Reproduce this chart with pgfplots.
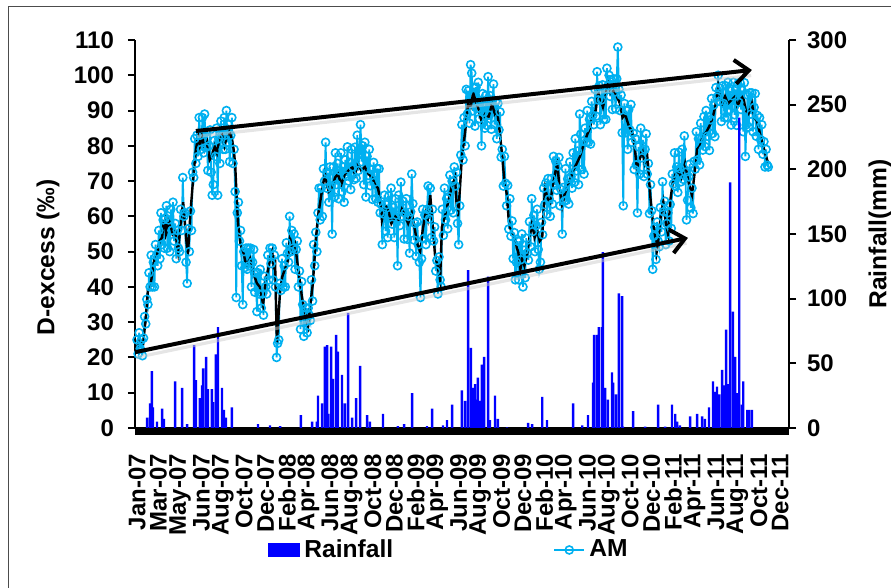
\documentclass[border=0pt]{standalone}
\usepackage{fontspec}
\setmainfont{Liberation Sans}
\usepackage{pgfplots}
\pgfplotsset{compat=1.18}
\usetikzlibrary{arrows.meta}
\definecolor{amcyan}{RGB}{0,176,240}
\definecolor{rainblue}{RGB}{0,0,255}
\begin{document}
\begin{tikzpicture}[x=0.5pt,y=0.5pt]
\path[use as bounding box] (0,0) rectangle (891,588);
\draw[gray!60!black, line width=0.5pt] (8,0) -- (8,581) -- (891,581);
\begin{axis}[
  at={(67.5pt,80pt)}, anchor=south west,
  width=327pt, height=194pt, scale only axis,
  xmin=-5.5, xmax=1794, ymin=0, ymax=110,
  axis y line*=left, axis x line*=bottom,
  axis line style={line width=1pt},
  ytick={0,10,...,110},
  xtick={0,59,...,1770},
  xticklabels={Jan-07,Mar-07,May-07,Jun-07,Aug-07,Oct-07,Dec-07,Feb-08,Apr-08,Jun-08,Aug-08,Oct-08,Dec-08,Feb-09,Apr-09,Jun-09,Aug-09,Oct-09,Dec-09,Feb-10,Apr-10,Jun-10,Aug-10,Oct-10,Dec-10,Feb-11,Apr-11,Jun-11,Aug-11,Oct-11,Dec-11},
  tick align=outside, major tick length=3.5pt,
  major tick style={line width=1pt, black},
  x tick style={draw=none},
  /pgf/number format/assume math mode=true,
  tick label style={font=\fontsize{12}{13}\selectfont\bfseries},
  xticklabel style={rotate=90, anchor=east, xshift=-6pt},
  yticklabel style={xshift=-3.5pt},
  ylabel={D-excess (‰)},
  ylabel style={font=\fontsize{12.3}{14}\selectfont\bfseries, at={(axis description cs:-0.133,0.44)}, anchor=center},
  clip=false,
]
\addplot[amcyan, line width=0.9pt, mark=o, mark size=2pt, mark options={fill=white, line width=0.8pt, solid}] table {
0 25
3 21
6 27
9 22.5
12 25
15 20.5
18 25.5
21 31.6
24 29.5
27 36.5
30 35
33 44
36 40
39 49
42 40
45 47
48 40
51 52
54 49
57 46
60 56
63 48
66 61
69 52
72 59
75 51
78 59.5
81 63
84 51
87 59
90 50
93 62
96 56
99 64
102 53
105 58
108 48
111 56
114 51
117 50
120 62
123 56
126 71
129 60
132 61
135 47
138 41
141 56.5
144 50
147 61.5
150 56
153 72.5
156 71
159 82
162 75
165 83
168 77
171 88
174 83
177 79
180 88
183 78
186 89
189 79.5
192 84
195 73
198 80
201 84.5
204 72.5
207 66
210 69
213 81.5
216 77
219 85
222 66
225 82
228 75
231 87
234 83
237 79
240 88
243 79
246 90
249 81
252 86
255 75.5
258 83
261 88
264 75
267 79
270 67
273 37
276 61
279 64
282 53
285 56
288 46
291 35
294 50
297 45.5
300 51
303 45
306 51
309 46
312 51
315 40
318 47
321 50.6
324 38.5
327 44
330 33
333 44
336 38
339 45
342 34
345 38
348 32
351 43
354 40
357 38
360 49
363 42
366 51
369 46.6
372 51
375 42
378 49
381 40
384 20
387 24
390 25
393 41
396 39
399 48
402 40
405 46
408 40
411 52.5
414 49.5
417 47
420 60
423 50
426 56
429 51
432 55
435 45
438 50.6
441 53
444 40
447 44.5
450 28
453 41.5
456 35
459 26
462 30
465 34
468 27
471 34
474 32
477 30.5
480 42
483 36
486 52
489 46
492 55.5
495 50
498 61
501 68
504 59
507 68
510 60
513 73.5
516 70
519 81
522 68
525 72.4
528 64
531 74
534 68.6
537 55
540 74
543 65.5
546 78
549 69
552 75
555 65
558 73
561 78
564 67
567 74
570 64
573 76
576 71.4
579 79.7
582 70
585 75.3
588 67.6
591 79
594 74
597 70.4
600 79.6
603 70.8
606 83
609 73
612 77.8
615 86
618 75.5
621 80
624 69
627 81
630 65.5
633 77
636 71.6
639 79
642 68.7
645 73.2
648 64.8
651 75.3
654 69.7
657 65
660 73.6
663 64
666 73.5
669 61
672 63.4
675 52
678 60.7
681 66
684 55.8
687 63.3
690 54
693 65.8
696 60.5
699 68
702 57.8
705 62.5
708 54
711 65
714 60.4
717 46
720 66
723 57.4
726 69.7
729 60
732 64.3
735 53.6
738 61
741 65
744 53.5
747 60
750 49.6
753 61.3
756 72
759 63.6
762 53.3
765 58
768 48.7
771 58.4
774 52
777 47
780 37
783 48
786 62
789 53.7
792 60.4
795 52
798 62
801 68.6
804 59.3
807 68
810 54
813 62
816 53
819 57
822 44.5
825 47.5
828 38
831 48.5
834 42
837 40
840 62
843 54.6
846 68
849 59
852 65
855 56.5
858 65.6
861 71.7
864 61.8
867 70
870 61
873 74
876 68.6
879 72.5
882 58
885 52
888 63
891 77.4
894 86
897 76
900 88
903 80
906 96
909 89
912 95.6
915 86.4
918 103
921 100.6
924 89.9
927 96.5
930 85.6
933 96.6
936 90.6
939 98
942 87.7
945 92.4
948 80
951 94.8
954 89.5
957 85
960 94.3
963 85.8
966 99.6
969 88.7
972 94.2
975 84.7
978 93
981 97.5
984 86
987 92.6
990 82
993 92
996 84.5
999 89.6
1002 76.8
1005 79
1008 68.6
1011 77
1014 69.4
1017 63
1020 68.8
1023 56.4
1026 65
1029 54.4
1032 58.7
1035 48
1038 55.4
1041 42
1044 47
1047 53
1050 42
1053 53
1056 47.7
1059 55
1062 40
1065 50.4
1068 42.6
1071 53.8
1074 49.6
1077 47.6
1080 58.5
1083 51.4
1086 65
1089 55.7
1092 60.3
1095 50
1098 57.4
1101 62
1104 50.6
1107 45
1110 47
1113 58.3
1116 54.8
1119 68
1122 63.3
1125 69.4
1128 60.6
1131 70.7
1134 64.9
1137 60
1140 70.7
1143 63.5
1146 77
1149 68.9
1152 75.7
1155 67.4
1158 74.3
1161 76.7
1164 63
1167 67.6
1170 55
1173 68.2
1176 64.3
1179 73.5
1182 64.6
1185 70.6
1188 63.5
1191 75.4
1194 71.2
1197 68
1200 78
1203 69.6
1206 82
1209 72.9
1212 78.5
1215 69
1218 89
1221 83.3
1224 73.3
1227 81.3
1230 72
1233 85
1236 81
1239 90
1242 81
1245 87.5
1248 80.5
1251 92.6
1254 88.6
1257 86
1260 96
1263 88.4
1266 101
1269 93
1272 97
1275 86
1278 93
1281 97.3
1284 87.5
1287 96
1290 87.5
1293 102
1296 97
1299 100
1302 94
1305 98.7
1308 90.3
1311 99
1314 95.2
1317 90.5
1320 99
1323 108
1326 96
1329 90
1332 94.4
1335 83.7
1338 63
1341 92
1344 83.7
1347 90
1350 79
1353 90.3
1356 84.5
1359 91.7
1362 81
1365 83.6
1368 73.3
1371 82
1374 74.6
1377 61
1380 79.7
1383 72
1386 85
1389 76.6
1392 81.7
1395 71.3
1398 79
1401 83.4
1404 72
1407 75
1410 60.8
1413 69
1416 61.6
1419 45
1422 54.4
1425 56.9
1428 47.8
1431 58.4
1434 53
1437 51.4
1440 62.5
1443 55.6
1446 69.8
1449 61.3
1452 64.3
1455 52
1458 58
1461 61
1464 53
1467 63.4
1470 56.6
1473 72
1476 69.2
1479 78
1482 68.5
1485 74
1488 66.8
1491 78.2
1494 73.5
1497 69.8
1500 79
1503 70.5
1506 82.8
1509 72.5
1512 59
1515 64.6
1518 71.2
1521 74.8
1524 62.4
1527 68
1530 60.8
1533 75.6
1536 73.4
1539 84
1542 76
1545 82
1548 74.6
1551 86.4
1554 82.1
1557 78.8
1560 88.3
1563 79.8
1566 90
1569 82.7
1572 88.2
1575 78.7
1578 87.4
1581 93.4
1584 83.5
1587 91.6
1590 82.6
1593 96.5
1596 93.8
1599 100
1602 92.6
1605 96.3
1608 86.9
1611 97
1614 92
1617 88
1620 97
1623 88
1626 98
1629 90.3
1632 95.6
1635 85.9
1638 94.2
1641 98
1644 88.8
1647 96
1650 85.8
1653 97.5
1656 92.3
1659 98
1662 90.3
1665 95.7
1668 84
1671 97.9
1674 77
1677 86
1680 94.4
1683 85.3
1686 95
1689 89
1692 95
1695 84
1698 90.9
1701 94.8
1704 82.7
1707 88.6
1710 79
1713 88
1716 81.7
1719 86
1722 77.6
1725 81.2
1728 74
1731 79
1734 74.5
1737 74
};
\addplot[black, line width=1.2pt] coordinates {
(0,23)(8,25)(17,24)(24,31)(30,39)(36,40)(41,43)(48,48)(55,49)(62,53)(69,54)(73,58)(77,59)(80,55)(83,56)(87,59)(91,58)(98,55)(105,56)(109,53)(113,50)(120,58)(127,64)(134,55)(140,49)(147,61)(154,70)(161,78)(168,83)(173,80)(179,83)(186,79)(193,81)(200,76)(206,77)(213,80)(220,78)(227,82)(234,83)(241,80)(248,83)(254,84)(261,82)(266,79)(270,75)(274,66)(278,58)(285,52)(292,50)(301,46)(311,48)(320,44)(330,41)(338,40)(347,35)(354,42)(361,45)(366,48)(372,50)(376,46)(380,47)(385,24)(390,33)(394,39)(400,43)(407,45)(414,47)(421,54)(428,50)(435,52)(445,44)(454,37)(462,33)(471,29)(478,36)(484,41)(491,52)(498,60)(507,66)(517,72)(527,67)(537,68)(545,71)(553,72)(562,69)(572,72)(582,73)(592,74)(600,72)(608,75)(617,73)(627,74)(637,72)(647,71)(655,69)(663,68)(669,65)(674,59)(683,63)(691,62)(700,58)(710,60)(720,59)(729,62)(738,60)(746,58)(756,61)(765,56)(772,52)(779,50)(786,56)(794,61)(800,59)(807,66)(813,58)(820,49)(827,46)(834,42)(839,57)(847,60)(856,64)(865,68)(875,71)(879,64)(883,60)(888,67)(894,77)(903,84)(911,92)(918,91)(925,95)(931,93)(938,91)(948,87)(958,89)(967,88)(977,92)(984,89)(991,90)(998,84)(1004,78)(1011,70)(1018,66)(1022,60)(1026,57)(1033,55)(1040,54)(1045,51)(1049,50)(1055,45)(1060,48)(1066,46)(1073,49)(1080,54)(1087,58)(1094,54)(1101,56)(1108,53)(1115,54)(1119,62)(1123,68)(1130,65)(1137,64)(1146,70)(1156,75)(1163,68)(1170,63)(1176,66)(1183,68)(1191,70)(1200,73)(1210,75)(1219,77)(1228,80)(1238,83)(1246,85)(1255,89)(1262,90)(1269,95)(1276,93)(1282,91)(1289,94)(1296,98)(1303,95)(1310,96)(1320,94)(1329,92)(1336,88)(1343,89)(1352,86)(1362,84)(1369,80)(1376,73)(1383,76)(1390,79)(1397,75)(1404,77)(1408,72)(1412,66)(1419,59)(1426,54)(1430,50)(1434,53)(1441,60)(1448,64)(1455,58)(1461,55)(1468,65)(1475,70)(1482,72)(1489,73)(1498,71)(1508,75)(1517,70)(1527,66)(1534,72)(1541,79)(1549,80)(1558,83)(1567,84)(1577,86)(1584,88)(1591,91)(1599,97)(1604,94)(1610,92)(1618,94)(1626,92)(1636,93)(1646,94)(1652,91)(1659,93)(1668,94)(1675,90)(1682,89)(1692,92)(1699,88)(1706,87)(1713,84)(1720,81)(1728,78)(1737,75)
};
\end{axis}
\begin{axis}[
  at={(67.5pt,80pt)}, anchor=south west,
  width=327pt, height=194pt, scale only axis,
  xmin=-5.5, xmax=1794, ymin=0, ymax=300,
  axis y line*=right, axis x line=none,
  axis line style={line width=1pt},
  ytick={0,50,...,300},
  tick align=outside, major tick length=3.5pt,
  major tick style={line width=1pt, black},
  /pgf/number format/assume math mode=true,
  tick label style={font=\fontsize{12}{13}\selectfont\bfseries},
  yticklabel style={xshift=2pt},
  ylabel={Rainfall(mm)},
  ylabel style={font=\fontsize{12.3}{14}\selectfont\bfseries, at={(axis description cs:1.139,0.5)}, anchor=center, rotate=0},
  clip=false,
  legend columns=2,
  legend style={at={(axis description cs:0.2034,-0.3144)}, anchor=west, draw=none, fill=none, inner sep=0pt,
    font=\fontsize{12.3}{14}\selectfont\bfseries,
    /tikz/every even column/.append style={column sep=78pt}},
]
\addplot[ybar, bar width=1.2pt, bar shift=0pt, fill=rainblue, draw=none,
  legend image code/.code={\fill[rainblue] (0pt,-3.5pt) rectangle (16pt,3.5pt);}] coordinates {
(28,8)(36,19)(41,44)(44,16)(55,5)(69,15)(74,7)(105,36)(124,31)(138,3)(157,64)(162,37)(173,23)(179,33)(182,46)(190,55)(195,30)(206,30)(209,20)(217,57)(223,78)(234,31)(239,14)(245,8)(261,16)(333,3)(366,2)(394,1.5)(451,10)(482,5)(495,5)(498,25)(509,19)(517,63)(523,64)(526,11)(534,63)(539,38)(548,72)(553,59)(564,41)(572,19)(581,89)(592,8)(603,23)(614,48)(633,10)(641,5)(677,11)(718,1.5)(735,3)(757,27)(798,1.5)(812,15)(842,2)(853,6)(867,18)(894,29)(903,21)(911,122)(919,62)(925,31)(930,34)(936,22)(938,39)(944,21)(949,49)(955,55)(966,117)(971,6)(985,25)(993,7)(1018,0.5)(1076,4)(1087,3)(1115,24)(1128,6)(1200,19)(1225,2)(1241,10)(1255,35)(1258,72)(1266,72)(1271,78)(1280,78)(1282,136)(1288,31)(1296,22)(1307,43)(1310,35)(1318,26)(1326,104)(1335,102)(1337,1)(1365,13)(1398,1)(1434,18)(1453,1)(1472,18)(1481,11)(1486,5)(1494,2)(1522,9)(1541,11)(1555,9)(1563,7)(1574,16)(1585,36)(1591,28)(1596,32)(1602,26)(1610,45)(1615,33)(1621,76)(1626,34)(1632,190)(1640,90)(1646,55)(1651,27)(1657,240)(1665,18)(1668,36)(1679,14)(1684,14)(1692,14)
};
\addlegendentry{Rainfall}
\addlegendimage{amcyan, line width=1pt, mark=o, mark size=2pt, mark options={fill=white, line width=0.8pt},
  legend image code/.code={\draw[mark repeat=2, mark phase=2] plot coordinates {(0pt,0pt) (7.5pt,0pt) (15pt,0pt)};}}
\addlegendentry{AM}
\fill[black] (rel axis cs:0,0) rectangle ([yshift=-3.5pt]rel axis cs:1,0);
\addplot[forget plot, gray!40, line width=1.6pt, opacity=0.5] coordinates {(166,225.5) (1690,272.5)};
\addplot[forget plot, gray!40, line width=1.6pt, opacity=0.5] coordinates {(-2,54.5) (1512,142.9)};
\addplot[forget plot, black, line width=2pt, -{Straight Barb[length=7pt,width=12pt,line width=2pt]}] coordinates {(162,229.6) (1692,276.8)};
\addplot[forget plot, black, line width=2pt, -{Straight Barb[length=7pt,width=12pt,line width=2pt]}] coordinates {(-5.5,58.6) (1516,147)};
\end{axis}
\end{tikzpicture}
\end{document}
